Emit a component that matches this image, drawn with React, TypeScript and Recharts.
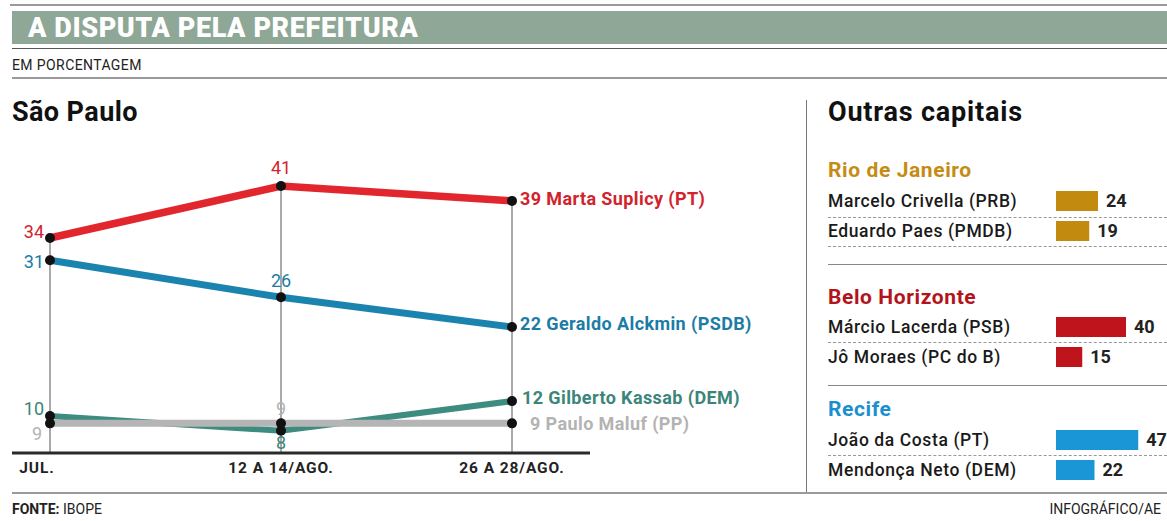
import React from 'react'
import { LineChart, Line, XAxis, YAxis, ReferenceLine, LabelList, BarChart, Bar } from 'recharts'

// São Paulo poll, %
const periods = ['JUL.', '12 A 14/AGO.', '26 A 28/AGO.']
const marta = [34, 41, 39]
const alckmin = [31, 26, 22]
const kassab = [10, 8, 12]
const maluf = [9, 9, 9]

// outras capitais, last poll
const rioNames = ['Marcelo Crivella (PRB)', 'Eduardo Paes (PMDB)']
const rioValues = [24, 19]
const bhNames = ['Márcio Lacerda (PSB)', 'Jô Moraes (PC do B)']
const bhValues = [40, 15]
const recifeNames = ['João da Costa (PT)', 'Mendonça Neto (DEM)']
const recifeValues = [47, 22]

const spData = periods.map((p, i) => ({
  period: p, marta: marta[i], alckmin: alckmin[i], kassab: kassab[i], maluf: maluf[i],
}))
const topOf = (i: number) => Math.max(marta[i], alckmin[i], kassab[i], maluf[i])

const FONT = 'Roboto, "Noto Sans", sans-serif'
const Y_MIN = 5

type Pos = [number, number, 'start' | 'middle' | 'end']
const series: { key: string; name: string; line: string; text: string; width: number; pos: Pos[] }[] = [
  { key: 'kassab', name: 'Gilberto Kassab (DEM)', line: '#3e8b7f', text: '#3b8579', width: 6,
    pos: [[-6, -7, 'end'], [0, 12, 'middle'], [10, -4, 'start']] },
  { key: 'maluf', name: 'Paulo Maluf (PP)', line: '#b5b5b5', text: '#b3b3b3', width: 7,
    pos: [[-8, 10, 'end'], [0, -15, 'middle'], [18, 0, 'start']] },
  { key: 'alckmin', name: 'Geraldo Alckmin (PSDB)', line: '#1a84ae', text: '#1c7ca6', width: 7,
    pos: [[-6, 1, 'end'], [0, -17, 'middle'], [8, -3, 'start']] },
  { key: 'marta', name: 'Marta Suplicy (PT)', line: '#e1262d', text: '#d2232c', width: 7.5,
    pos: [[-6, -6, 'end'], [0, -19, 'middle'], [8, -2, 'start']] },
]

const makeLabel = (s: typeof series[number]) => (props: any) => {
  const { x, y, value, index } = props
  const [dx, dy, anchor] = s.pos[index]
  const last = index === periods.length - 1
  return (
    <text x={x + dx} y={y + dy} textAnchor={anchor} dominantBaseline="central"
      fill={s.text} fontSize={18} fontWeight={last ? 700 : 400} letterSpacing={last ? 0.4 : 0} fontFamily={FONT}>
      {last ? `${value} ${s.name}` : value}
    </text>
  )
}

const PeriodTick = (props: any) => {
  const { x, y, payload, index } = props
  return (
    <text x={x + (index === 0 ? -13 : 0)} y={y} dy="0.75em" textAnchor="middle"
      fill="#222" fontSize={15.5} fontWeight={700} letterSpacing={0.9} fontFamily={FONT}>
      {payload.value}
    </text>
  )
}

function CityBars({ top, names, values, color }: { top: number; names: string[]; values: number[]; color: string }) {
  const data = names.map((n, i) => ({ name: n, value: values[i] }))
  const NameTick = (p: any) => (
    <text x={0} y={p.y} dominantBaseline="central" fill="#1a1a1a" fontSize={17.5} fontWeight={500}
      letterSpacing={0.6} fontFamily={FONT}>
      {p.payload.value}
    </text>
  )
  return (
    <div style={{ position: 'absolute', left: 828, top, width: 339, height: 60 }}>
      <BarChart width={339} height={60} data={data} layout="vertical" margin={{ top: 0, right: 0, bottom: 0, left: 0 }}>
        <XAxis type="number" domain={[0, 111 / 1.75]} hide />
        <YAxis type="category" dataKey="name" width={228} axisLine={false} tickLine={false} tick={<NameTick />} />
        <Bar dataKey="value" fill={color} barSize={20} isAnimationActive={false}>
          <LabelList dataKey="value" position="right" offset={8} fill="#222" fontSize={18} fontWeight={700} fontFamily={FONT} />
        </Bar>
      </BarChart>
    </div>
  )
}

const hr = (top: number, left: number, width: number, border: string) => (
  <div style={{ position: 'absolute', top, left, width, height: 0, borderTop: border }} />
)

const cityHead = { position: 'absolute' as const, left: 828, fontSize: 21, fontWeight: 700, letterSpacing: 0.6 }

export default function App() {
  return (
    <div style={{ position: 'absolute', left: 0, top: 0, width: 1167, height: 521, background: '#fff', overflow: 'hidden', fontFamily: FONT }}>
      {hr(4, 10, 1157, '2px solid #9a9a9a')}
      <div style={{ position: 'absolute', left: 12, top: 11, width: 1155, height: 33, background: '#8ea796' }}>
        <div style={{ position: 'absolute', left: 16, top: 0, lineHeight: '34px', color: '#fff', fontSize: 27, fontWeight: 900, letterSpacing: 0.6 }}>
          A DISPUTA PELA PREFEITURA
        </div>
      </div>
      {hr(48, 12, 1155, '1px solid #555')}
      <div style={{ position: 'absolute', left: 12, top: 57, fontSize: 14, letterSpacing: 0.4, color: '#222' }}>EM PORCENTAGEM</div>
      {hr(77, 12, 1155, '2px solid #9a9a9a')}

      <div style={{ position: 'absolute', left: 12, top: 96, fontSize: 27, fontWeight: 700, letterSpacing: 0.4, color: '#111' }}>São Paulo</div>

      <div style={{ position: 'absolute', left: 0, top: 140 }}>
        <LineChart width={800} height={350} data={spData} margin={{ top: 9, right: 210, bottom: 7, left: 12 }}>
          <XAxis dataKey="period" scale="point" padding={{ left: 38, right: 78 }} height={30} interval={0}
            axisLine={{ stroke: '#2a2a2a', strokeWidth: 3 }} tickLine={false} tick={<PeriodTick />} />
          <YAxis hide domain={[Y_MIN, 46]} />
          {periods.map((p, i) => (
            <ReferenceLine key={p} segment={[{ x: p, y: Y_MIN }, { x: p, y: topOf(i) }]} stroke="#555" strokeWidth={1} />
          ))}
          {series.map((s) => (
            <Line key={s.key} dataKey={s.key} type="linear" stroke={s.line} strokeWidth={s.width}
              dot={{ r: 5, fill: '#111', stroke: 'none' }} activeDot={false} isAnimationActive={false}>
              <LabelList dataKey={s.key} content={makeLabel(s)} />
            </Line>
          ))}
        </LineChart>
      </div>

      <div style={{ position: 'absolute', left: 806, top: 100, width: 1, height: 392, background: '#777' }} />
      <div style={{ position: 'absolute', left: 828, top: 96, fontSize: 27, fontWeight: 700, letterSpacing: 0.8, color: '#111' }}>Outras capitais</div>

      <div style={{ ...cityHead, top: 158, color: '#c48c14' }}>Rio de Janeiro</div>
      {hr(217, 828, 339, '1px dashed #999')}
      {hr(246, 828, 339, '1px dashed #999')}
      <CityBars top={186} names={rioNames} values={rioValues} color="#c38a10" />
      {hr(264, 828, 339, '1px solid #888')}

      <div style={{ ...cityHead, top: 285, color: '#b3141c' }}>Belo Horizonte</div>
      {hr(342, 828, 339, '1px dashed #999')}
      <CityBars top={312} names={bhNames} values={bhValues} color="#c0141c" />
      {hr(385, 828, 339, '1px solid #888')}

      <div style={{ ...cityHead, top: 397, color: '#1a8fd0' }}>Recife</div>
      {hr(455, 828, 339, '1px dashed #999')}
      <CityBars top={425} names={recifeNames} values={recifeValues} color="#1a96d6" />

      {hr(492, 12, 1155, '2px solid #9a9a9a')}
      <div style={{ position: 'absolute', left: 12, top: 501, fontSize: 14, color: '#222' }}>
        <b>FONTE:</b> IBOPE
      </div>
      <div style={{ position: 'absolute', right: 6, top: 501, fontSize: 14, color: '#222' }}>INFOGRÁFICO/AE</div>
    </div>
  )
}
